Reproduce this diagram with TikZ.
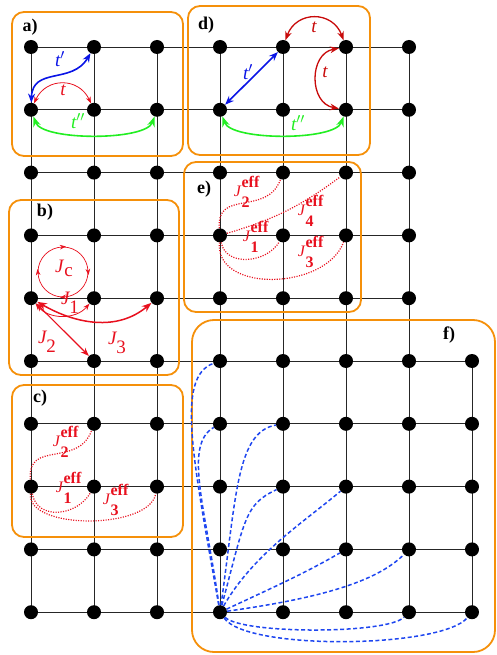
\documentclass[tikz,border=0pt]{standalone}
\usepackage{amsmath}
\usepackage{fontspec}
\setmainfont{Liberation Serif}
\usepackage{tikz}
\usetikzlibrary{arrows.meta,backgrounds,decorations.markings}
\definecolor{panelorange}{HTML}{F5900A}
\definecolor{hopred}{HTML}{E8101E}
\definecolor{hopdarkred}{HTML}{C80A0A}
\definecolor{hopblue}{HTML}{0A14E6}
\definecolor{hopgreen}{HTML}{22EE22}
\definecolor{longblue}{HTML}{1E46F0}
\newcommand{\jsub}[1]{\textit{J}\kern-1pt\raisebox{-0.45em}{#1}}
\newcommand{\jeff}[1]{\textit{J}\rlap{\raisebox{0.55em}{\textbf{eff}}}\raisebox{-0.7em}{\textbf{#1}}\hphantom{\textbf{ef}}}

\begin{document}
\begin{tikzpicture}[x=1pt,y=1pt,
		site/.style={circle,fill=black,inner sep=0pt,minimum size=14pt},
		bond/.style={draw=black!85,line width=0.7pt},
		panel/.style={draw=panelorange,line width=1.8pt,rounded corners=12pt},
		paneltag/.style={font=\fontsize{18}{18}\selectfont\bfseries},
		hoplabel/.style={font=\fontsize{19}{19}\selectfont\itshape},
		couplabel/.style={font=\fontsize{19}{19}\selectfont,text=hopred},
		efflabel/.style={font=\fontsize{16}{16}\selectfont,text=hopred,inner sep=0pt},
		bluehop/.style={draw=hopblue,line width=1.6pt,{Stealth[length=9pt,width=7pt]}-{Stealth[length=9pt,width=7pt]}},
		redhop/.style={draw=hopred,line width=0.8pt,Stealth-Stealth},
		darkhop/.style={draw=hopdarkred,line width=1.3pt,Stealth-Stealth},
		greenhop/.style={draw=hopgreen,line width=1.6pt,Stealth-Stealth},
		jhop/.style={draw=hopred,Stealth-Stealth},
		ring/.style={draw=hopred,line width=0.7pt,postaction={decorate},
			decoration={markings,
				mark=at position 0.02 with {\arrow{Stealth[reversed]}},
				mark=at position 0.27 with {\arrow{Stealth[reversed]}},
				mark=at position 0.52 with {\arrow{Stealth[reversed]}},
				mark=at position 0.77 with {\arrow{Stealth[reversed]}}}},
		effloop/.style={draw=hopred,line width=1.2pt,dash pattern=on 1.1pt off 1.4pt},
		longrange/.style={draw=longblue,line width=1.5pt,dash pattern=on 4pt off 2.5pt},
	]
		\useasboundingbox (0,0) rectangle (496,-655);

		% lattice sites
		\foreach \r in {0,...,4}
			\foreach \c in {0,...,6}
				\node[site] (p\r\c) at ({31+63*\c},{-47-62.8*\r}) {};
		\foreach \r in {5,...,9}
			\foreach \c in {0,...,7}
				\node[site] (p\r\c) at ({31+63*\c},{-47-62.8*\r}) {};

		\begin{scope}[on background layer]
			\foreach \r in {0,...,4} \draw[bond] (p\r0.center) -- (p\r6.center);
			\foreach \r in {5,...,9} \draw[bond] (p\r0.center) -- (p\r7.center);
			\foreach \c in {0,...,6} \draw[bond] (p0\c.center) -- (p9\c.center);
			\draw[bond] (p57.center) -- (p97.center);
		\end{scope}

		\draw[panel] (12,-12) rectangle (183,-156);
		\draw[panel] (188,-6) rectangle (370,-155);
		\draw[panel] (9,-200) rectangle (179,-375);
		\draw[panel] (184,-162) rectangle (361,-312);
		\draw[panel] (12,-385) rectangle (183,-537);
		\draw[panel,rounded corners=22pt] (192,-320) rectangle (495,-652);

		\node[paneltag] (ta) at (30,-27) {a)};
		\node[paneltag] (td) at (206,-25) {d)};
		\node[paneltag] (tb) at (45,-212) {b)};
		\node[paneltag] (te) at (204,-189) {e)};
		\node[paneltag] (tc) at (40,-398) {c)};
		\node[paneltag] (tf) at (449,-335) {f)};

		% a)
		\draw[bluehop] (p10) to[out=88,in=240,looseness=1.2] (p01);
		\draw[redhop] (p10) to[out=65,in=115,looseness=1.3] (p11);
		\draw[greenhop] (p10) to[out=-70,in=-110,looseness=0.55] (p12);
		\node[hoplabel,text=hopblue] (ta1) at (60,-59) {t$'$};
		\node[hoplabel,text=hopred] (ta2) at (63,-90) {t};
		\node[hoplabel,text=hopgreen] (ta3) at (78,-121) {t$''$};

		% d)
		\draw[bluehop] (p13) -- (p04);
		\draw[darkhop] (p04) to[out=70,in=110,looseness=1.4] (p05);
		\draw[darkhop] (p05) to[out=190,in=170,looseness=1.3] (p15);
		\draw[greenhop] (p13) to[out=-70,in=-110,looseness=0.55] (p15);
		\node[hoplabel,text=hopblue] (td1) at (248,-72) {t$'$};
		\node[hoplabel,text=hopdarkred] (td2) at (314,-27) {t};
		\node[hoplabel,text=hopdarkred] (td3) at (325,-72) {t};
		\node[hoplabel,text=hopgreen] (td4) at (298,-123) {t$''$};

		% b)
		\draw[ring] (63,-272) circle (25);
		\draw[jhop,line width=0.8pt] (p40) to[out=-50,in=-130] (p41);
		\draw[jhop,line width=1.2pt] (p40) -- (p51);
		\draw[jhop,line width=1.5pt] (p40) to[out=-30,in=-140] (p42);
		\node[couplabel] (jc) at (64,-268) {\textit{J}\raisebox{-0.2em}{c}};
		\node[couplabel] (j1) at (70,-303) {\jsub{1}};
		\node[couplabel] (j2) at (47,-342) {\jsub{2}};
		\node[couplabel] (j3) at (117,-343) {\jsub{3}};

		% e)
		\draw[effloop] (p33) to[out=95,in=250,looseness=1.3] (p24);
		\draw[effloop] (p33) to[bend right=10] (p25);
		\draw[effloop] (p33) to[out=-80,in=-120,looseness=1.1] (p34);
		\draw[effloop] (p33) to[out=-95,in=-110,looseness=1.05] (p35);
		\node[efflabel] (e2) at (248,-192) {\jeff{2}};
		\node[efflabel] (e4) at (312,-211) {\jeff{4}};
		\node[efflabel] (e1) at (257,-237) {\jeff{1}};
		\node[efflabel] (e3) at (312,-252) {\jeff{3}};

		% c)
		\draw[effloop] (p70) to[out=95,in=250,looseness=1.3] (p61);
		\draw[effloop] (p70) to[out=-80,in=-120,looseness=1.2] (p71);
		\draw[effloop] (p70) to[out=-95,in=-100,looseness=0.75] (p72);
		\node[efflabel] (c2) at (67,-442) {\jeff{2}};
		\node[efflabel] (c1) at (70,-488) {\jeff{1}};
		\node[efflabel] (c3) at (117,-500) {\jeff{3}};

		% f)
		\draw[longrange] (p93) to[out=100,in=200,out distance=150,in distance=40] (p53);
		\draw[longrange] (p93) to[out=98,in=210,out distance=100,in distance=35] (p63);
		\draw[longrange] (p93) to[out=82,in=190,out distance=110,in distance=40] (p64);
		\draw[longrange] (p93) to[out=75,in=205,out distance=90,in distance=35] (p74);
		\draw[longrange] (p93) to[out=60,in=220,out distance=60,in distance=50] (p75);
		\draw[longrange] (p93) to[out=25,in=210,out distance=60,in distance=40] (p85);
		\draw[longrange] (p93) to[out=8,in=225,out distance=90,in distance=40] (p86);
		\draw[longrange] (p93) to[out=-45,in=-135,out distance=24,in distance=24] (p96);
		\draw[longrange] (p93) to[out=-55,in=-130,out distance=40,in distance=40] (p97);
	\end{tikzpicture}
\end{document}
